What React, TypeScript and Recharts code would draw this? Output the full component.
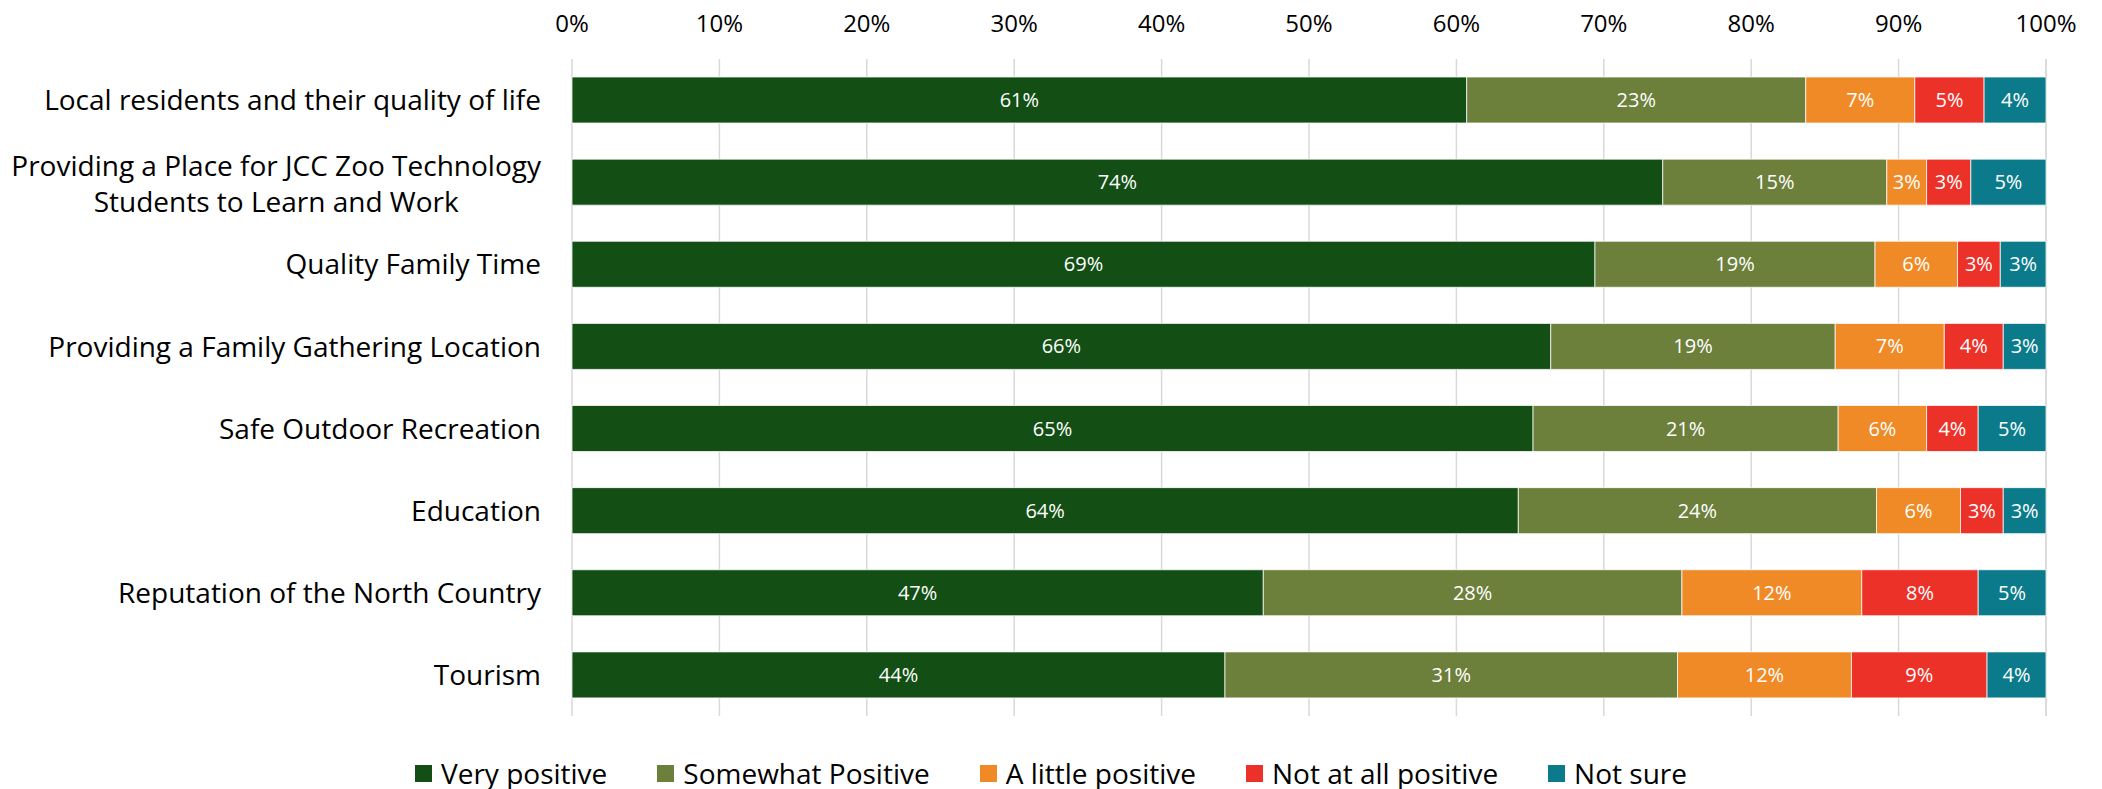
import { BarChart, Bar, XAxis, YAxis, CartesianGrid, LabelList } from "recharts"

const categories = [
  "Local residents and their quality of life",
  "Providing a Place for JCC Zoo Technology\nStudents to Learn and Work",
  "Quality Family Time",
  "Providing a Family Gathering Location",
  "Safe Outdoor Recreation",
  "Education",
  "Reputation of the North Country",
  "Tourism",
]

const veryPositive = [60.7, 74.0, 69.4, 66.4, 65.2, 64.2, 46.9, 44.3]
const somewhatPositive = [23.0, 15.2, 19.0, 19.3, 20.7, 24.3, 28.4, 30.7]
const aLittlePositive = [7.4, 2.7, 5.6, 7.4, 6.0, 5.7, 12.2, 11.8]
const notAtAllPositive = [4.7, 3.0, 2.9, 4.0, 3.5, 2.9, 7.9, 9.2]
const notSure = [4.2, 5.1, 3.1, 2.9, 4.6, 2.9, 4.6, 4.0]

const seriesKeys = ["veryPositive", "somewhatPositive", "aLittlePositive", "notAtAllPositive", "notSure"]
const seriesNames = ["Very positive", "Somewhat Positive", "A little positive", "Not at all positive", "Not sure"]
const seriesColors = ["#134f15", "#6c7f3b", "#f08a26", "#ec3129", "#0b7b8b"]
const seriesValues = [veryPositive, somewhatPositive, aLittlePositive, notAtAllPositive, notSure]

const xTicks = [0, 10, 20, 30, 40, 50, 60, 70, 80, 90, 100]

const FONT = "'Open Sans', sans-serif"
const LABEL_SIZE = 28

const data = categories.map((name, i) => {
  const row: any = { name }
  seriesKeys.forEach((key, s) => {
    row[key] = seriesValues[s][i]
  })
  return row
})

let canvasCtx: CanvasRenderingContext2D | null = null
const measure = (text: string) => {
  if (!canvasCtx) canvasCtx = document.createElement("canvas").getContext("2d")
  if (!canvasCtx) return text.length * LABEL_SIZE * 0.5
  canvasCtx.font = `${LABEL_SIZE}px 'Open Sans'`
  return canvasCtx.measureText(text).width
}

const CategoryTick = ({ x, y, payload }: any) => {
  const lines = String(payload.value).split("\n")
  if (lines.length === 1) {
    return (
      <text x={x} y={y} dy="0.36em" textAnchor="end" fill="#000" fontSize={LABEL_SIZE} fontFamily={FONT}>
        {lines[0]}
      </text>
    )
  }
  const w = Math.max(...lines.map(measure))
  const lineGap = 36
  const start = -((lines.length - 1) * lineGap) / 2 + 2
  return (
    <g>
      {lines.map((line, i) => (
        <text
          key={i}
          x={x - w / 2}
          y={y + start + i * lineGap}
          dy="0.36em"
          textAnchor="middle"
          fill="#000"
          fontSize={LABEL_SIZE}
          fontFamily={FONT}
        >
          {line}
        </text>
      ))}
    </g>
  )
}

const PercentTick = ({ x, payload }: any) => (
  <text x={x} y={32} textAnchor="middle" fill="#000" fontSize={24} fontFamily={FONT}>
    {`${payload.value}%`}
  </text>
)

export default function App() {
  return (
    <div style={{ position: "absolute", left: 0, top: 0, width: 2102, height: 789, background: "#fff" }}>
      <BarChart
        width={2102}
        height={789}
        data={data}
        layout="vertical"
        margin={{ top: 0, right: 56, bottom: 73, left: 0 }}
        barSize={46}
      >
        <CartesianGrid horizontal={false} stroke="#d9d9d9" strokeWidth={1.5} />
        <XAxis
          type="number"
          orientation="top"
          domain={[0, 100]}
          ticks={xTicks}
          height={59}
          axisLine={false}
          tickLine={false}
          tick={<PercentTick />}
          interval={0}
        />
        <YAxis
          type="category"
          dataKey="name"
          width={572}
          axisLine={false}
          tickLine={false}
          tickSize={0}
          tickMargin={31}
          tick={<CategoryTick />}
          interval={0}
        />
        {seriesKeys.map((key, s) => (
          <Bar
            key={key}
            dataKey={key}
            name={seriesNames[s]}
            stackId="a"
            fill={seriesColors[s]}
            stroke="#ffffff"
            strokeWidth={0.75}
            isAnimationActive={false}
          >
            <LabelList
              dataKey={key}
              position="center"
              fill="#ffffff"
              fontSize={20}
              fontFamily={FONT}
              formatter={(v: any) => `${Math.round(Number(v))}%`}
            />
          </Bar>
        ))}
      </BarChart>
      <div
        style={{
          position: "absolute",
          left: 0,
          top: 756,
          width: 2102,
          height: 34,
          display: "flex",
          justifyContent: "center",
          alignItems: "center",
          gap: 50,
          fontFamily: FONT,
          fontSize: LABEL_SIZE,
          color: "#000",
        }}
      >
        {seriesNames.map((name, s) => (
          <div key={name} style={{ display: "flex", alignItems: "center" }}>
            <span style={{ width: 17, height: 17, background: seriesColors[s], marginRight: 9, display: "inline-block" }} />
            <span>{name}</span>
          </div>
        ))}
      </div>
    </div>
  )
}
